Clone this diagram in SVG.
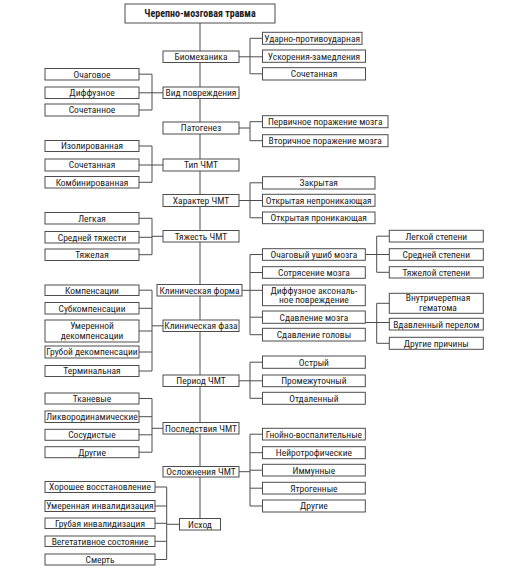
<svg xmlns="http://www.w3.org/2000/svg" width="531" height="574" viewBox="0 0 531 574">
<style>
rect{fill:#fff;stroke:#4d4d4d;stroke-width:1}
text{font-family:"Liberation Sans Narrow","Roboto Condensed","DejaVu Sans Condensed",sans-serif;font-size:9.5px;fill:#222;text-anchor:middle}
.t{font-weight:bold;font-size:10px}
#conn path{fill:none;stroke:#4d4d4d;stroke-width:1}
</style>
<rect x="0" y="0" width="531" height="574" style="fill:#fff;stroke:none"/>
<g id="conn">
<path d="M200 23V518.5"/>
<path d="M139 74.2H152M139 92.8H152M139 110H152M152 74.2V110M152 92.8H163"/>
<path d="M139 146H152M139 165H152M139 182.3H152M152 146V182.3M152 165H163"/>
<path d="M139 218.3H152M139 237.3H152M139 254.7H152M152 218.3V254.7M152 236.3H163"/>
<path d="M139 290.2H152M139 308.3H152M139 331H152M139 352H152M139 371H152M152 290.2V371M152 325.8H163"/>
<path d="M139 398.5H152M139 416.7H152M139 434.8H152M139 452.2H152M152 398.5V452.2M152 428.3H163"/>
<path d="M155 487H166.7M155 506H166.7M155 523.3H166.7M155 541.3H166.7M155 559.5H166.7M166.7 487V559.5M166.7 524.3H179.5"/>
<path d="M239 56.8H262.5M250 38.3V73.8M250 38.3H262.5M250 73.8H262.5"/>
<path d="M239 128H250M250 121.7V140.7M250 121.7H262.5M250 140.7H262.5"/>
<path d="M239 200.5H262.5M250 182.8V217.8M250 182.8H262.5M250 217.8H262.5"/>
<path d="M242 290.3H262.5M250 254.5V334.7M250 254.5H262.5M250 272.5H262.5M250 317.2H262.5M250 334.7H262.5"/>
<path d="M239 380.8H262.5M250 362.2V398.3M250 362.2H262.5M250 398.3H262.5"/>
<path d="M239 471.7H250M250 434.2V506M250 434.2H262.5M250 452.7H262.5M250 470.2H262.5M250 488.2H262.5M250 506H262.5"/>
<path d="M365.3 254.5H389.3M376.7 236.2V272.3M376.7 236.2H389.3M376.7 272.3H389.3"/>
<path d="M365.3 322.5H389.3M376.7 303.3V343.3M376.7 303.3H389.3M376.7 343.3H389.3"/>
</g>
<g id="n-title"><rect x="125" y="4" width="150" height="19"/><text class="t" x="200" y="17.2">Черепно-мозговая травма</text></g>
<g id="n-bio"><rect x="163" y="51" width="76" height="11.5"/><text x="201" y="60.2">Биомеханика</text></g>
<g id="n-vid"><rect x="163" y="87" width="76" height="11.5"/><text x="201" y="96.2">Вид повреждения</text></g>
<g id="n-pat"><rect x="163" y="122" width="76" height="12"/><text x="201" y="131.4">Патогенез</text></g>
<g id="n-tip"><rect x="163" y="159" width="76" height="12"/><text x="201" y="168.4">Тип ЧМТ</text></g>
<g id="n-har"><rect x="163" y="194.5" width="76" height="12"/><text x="201" y="203.9">Характер ЧМТ</text></g>
<g id="n-tyazh"><rect x="163" y="230.5" width="76" height="11.5"/><text x="201" y="239.7">Тяжесть ЧМТ</text></g>
<g id="n-kform"><rect x="157" y="284.5" width="85" height="11.5"/><text x="199.5" y="293.7">Клиническая форма</text></g>
<g id="n-kfaza"><rect x="163" y="320" width="76" height="11.5"/><text x="201" y="329.2">Клиническая фаза</text></g>
<g id="n-period"><rect x="163" y="375" width="76" height="11.5"/><text x="201" y="384.2">Период ЧМТ</text></g>
<g id="n-posl"><rect x="163" y="422.5" width="76" height="11.5"/><text x="201" y="431.7">Последствия ЧМТ</text></g>
<g id="n-osl"><rect x="163" y="466.5" width="76" height="10.5"/><text x="201" y="475.2">Осложнения ЧМТ</text></g>
<g id="n-ishod"><rect x="179.5" y="518.5" width="41" height="11.5"/><text x="200" y="527.7">Исход</text></g>

<g id="l-ochag"><rect x="45" y="68.5" width="94" height="11.5"/><text x="92" y="77.7">Очаговое</text></g>
<g id="l-diff"><rect x="45" y="87" width="94" height="11.5"/><text x="92" y="96.2">Диффузное</text></g>
<g id="l-soch1"><rect x="45" y="104" width="94" height="12"/><text x="92" y="113.4">Сочетанное</text></g>
<g id="l-izol"><rect x="45" y="140.5" width="94" height="11"/><text x="92" y="149.4">Изолированная</text></g>
<g id="l-soch2"><rect x="45" y="159" width="94" height="12"/><text x="92" y="168.4">Сочетанная</text></g>
<g id="l-komb"><rect x="45" y="176.5" width="94" height="11.5"/><text x="92" y="185.7">Комбинированная</text></g>
<g id="l-legk"><rect x="45" y="212.5" width="94" height="11.5"/><text x="92" y="221.7">Легкая</text></g>
<g id="l-sred"><rect x="45" y="231.5" width="94" height="11.5"/><text x="92" y="240.7">Средней тяжести</text></g>
<g id="l-tyazh"><rect x="45" y="249" width="94" height="11.5"/><text x="92" y="258.2">Тяжелая</text></g>
<g id="l-komp"><rect x="45" y="285" width="94" height="10.5"/><text x="92" y="293.7">Компенсации</text></g>
<g id="l-subk"><rect x="45" y="302.5" width="94" height="11.5"/><text x="92" y="311.7">Субкомпенсации</text></g>
<g id="l-umer"><rect x="45" y="320" width="94" height="22"/><text x="92" y="329">Умеренной</text><text x="92" y="339">декомпенсации</text></g>
<g id="l-grub"><rect x="45" y="346" width="94" height="12"/><text x="92" y="355.4">Грубой декомпенсации</text></g>
<g id="l-term"><rect x="45" y="365.5" width="94" height="11"/><text x="92" y="374.4">Терминальная</text></g>
<g id="l-tkan"><rect x="45" y="393" width="94" height="11"/><text x="92" y="401.9">Тканевые</text></g>
<g id="l-likv"><rect x="45" y="411" width="94" height="11.5"/><text x="92" y="420.2">Ликвородинамические</text></g>
<g id="l-sos"><rect x="45" y="429.3" width="94" height="11"/><text x="92" y="438.2">Сосудистые</text></g>
<g id="l-dr1"><rect x="45" y="446.7" width="94" height="11"/><text x="92" y="455.6">Другие</text></g>
<g id="l-hor"><rect x="45" y="481.5" width="110" height="11"/><text x="100" y="490.4">Хорошее восстановление</text></g>
<g id="l-umin"><rect x="45" y="500.5" width="110" height="11"/><text x="100" y="509.4">Умеренная инвалидизация</text></g>
<g id="l-grin"><rect x="45" y="518" width="110" height="10.5"/><text x="100" y="526.7">Грубая инвалидизация</text></g>
<g id="l-veg"><rect x="45" y="536" width="110" height="10.5"/><text x="100" y="544.7">Вегетативное состояние</text></g>
<g id="l-smert"><rect x="45" y="554" width="110" height="11"/><text x="100" y="562.9">Смерть</text></g>

<g id="r-udar"><rect x="262.5" y="32.3" width="99.5" height="12"/><text x="312.2" y="41.7">Ударно-противоударная</text></g>
<g id="r-usk"><rect x="262.5" y="50" width="103" height="12.3"/><text x="314" y="59.5">Ускорения-замедления</text></g>
<g id="r-soch"><rect x="262.5" y="67.7" width="103" height="12.3"/><text x="314" y="77.2">Сочетанная</text></g>
<g id="r-perv"><rect x="262.5" y="115.7" width="125.5" height="12"/><text x="325.2" y="125.1">Первичное поражение мозга</text></g>
<g id="r-vtor"><rect x="262.5" y="134.7" width="125.5" height="12"/><text x="325.2" y="144.1">Вторичное поражение мозга</text></g>
<g id="r-zakr"><rect x="262.5" y="176.7" width="112.5" height="12.3"/><text x="318.7" y="186.2">Закрытая</text></g>
<g id="r-otkn"><rect x="262.5" y="194.3" width="112.5" height="12"/><text x="318.7" y="203.7">Открытая непроникающая</text></g>
<g id="r-otkp"><rect x="262.5" y="212" width="112.5" height="11.7"/><text x="318.7" y="221.2">Открытая проникающая</text></g>
<g id="r-ushib"><rect x="262.5" y="248.7" width="102.8" height="11.6"/><text x="313.9" y="257.9">Очаговый ушиб мозга</text></g>
<g id="r-sotr"><rect x="262.5" y="266.7" width="102.8" height="11.6"/><text x="313.9" y="275.9">Сотрясение мозга</text></g>
<g id="r-dap"><rect x="262.5" y="285" width="102.8" height="20.7"/><text x="313.9" y="293.7">Диффузное аксональ-</text><text x="313.9" y="303.2">ное повреждение</text></g>
<g id="r-sdm"><rect x="262.5" y="311" width="102.8" height="12.3"/><text x="313.9" y="320.5">Сдавление мозга</text></g>
<g id="r-sdg"><rect x="262.5" y="328.3" width="102.8" height="12.7"/><text x="313.9" y="338">Сдавление головы</text></g>
<g id="r-ostr"><rect x="262.5" y="356" width="102.8" height="12.3"/><text x="313.9" y="365.5">Острый</text></g>
<g id="r-prom"><rect x="262.5" y="375" width="102.8" height="11.7"/><text x="313.9" y="384.2">Промежуточный</text></g>
<g id="r-otd"><rect x="262.5" y="392.3" width="102.8" height="12"/><text x="313.9" y="401.7">Отдаленный</text></g>
<g id="r-gnoi"><rect x="262.5" y="428.3" width="102.8" height="11.7"/><text x="313.9" y="437.5">Гнойно-воспалительные</text></g>
<g id="r-neir"><rect x="262.5" y="446.7" width="102.8" height="12"/><text x="313.9" y="456.1">Нейротрофические</text></g>
<g id="r-imm"><rect x="262.5" y="464.3" width="102.8" height="11.7"/><text x="313.9" y="473.5">Иммунные</text></g>
<g id="r-yatr"><rect x="262.5" y="482.3" width="102.8" height="11.7"/><text x="313.9" y="491.5">Ятрогенные</text></g>
<g id="r-dr2"><rect x="262.5" y="500" width="102.8" height="12"/><text x="313.9" y="509.4">Другие</text></g>

<g id="s-legk"><rect x="389.3" y="230.3" width="94" height="11.7"/><text x="436.3" y="239.5">Легкой степени</text></g>
<g id="s-sred"><rect x="389.3" y="248.7" width="94" height="11.6"/><text x="436.3" y="257.9">Средней степени</text></g>
<g id="s-tyazh"><rect x="389.3" y="266.7" width="94" height="11.3"/><text x="436.3" y="275.7">Тяжелой степени</text></g>
<g id="s-vnut"><rect x="389.3" y="293.3" width="94" height="20"/><text x="438" y="301.2">Внутричерепная</text><text x="438" y="311.2">гематома</text></g>
<g id="s-vdav"><rect x="389.3" y="318.3" width="94" height="11.7"/><text x="436.3" y="327.5">Вдавленный перелом</text></g>
<g id="s-dr"><rect x="389.3" y="337.3" width="94" height="12"/><text x="436.3" y="346.7">Другие причины</text></g>
</svg>
